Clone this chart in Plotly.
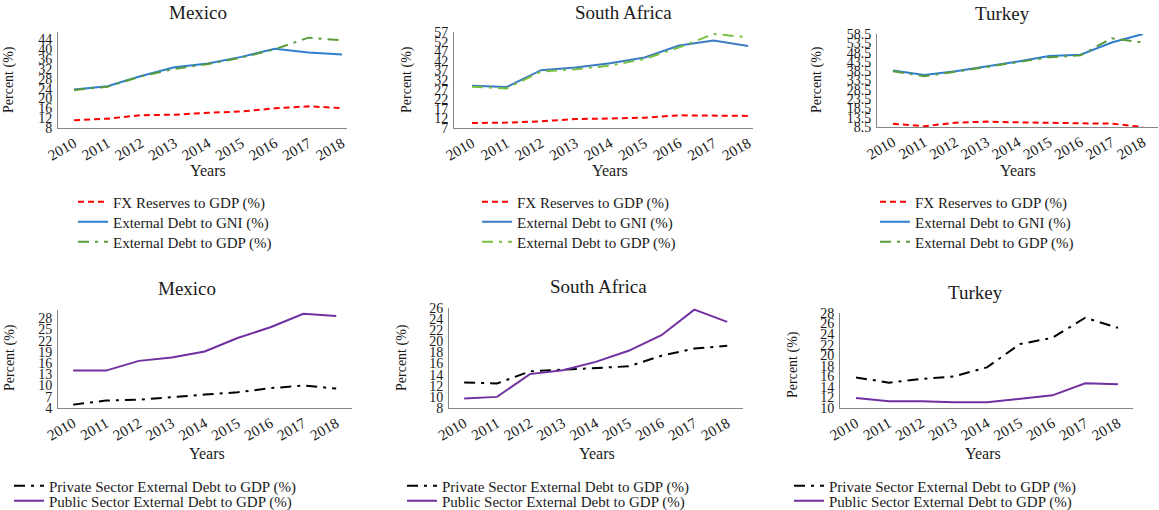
import plotly.graph_objects as go

W, H = 1159, 510
years = ["2010", "2011", "2012", "2013", "2014", "2015", "2016", "2017", "2018"]

# Top row: FX reserves & external debt
mex_fx = [11.1, 11.8, 13.2, 13.4, 14.2, 14.7, 16.0, 16.8, 16.1]
mex_gni = [23.6, 25.0, 29.1, 32.7, 34.2, 36.9, 40.2, 38.7, 37.9]
mex_gdp = [23.4, 24.8, 29.0, 32.0, 34.0, 36.6, 40.0, 44.7, 43.6]

za_fx = [9.6, 9.8, 10.5, 11.7, 11.9, 12.4, 13.6, 13.6, 13.3]
za_gni = [29.0, 28.3, 37.1, 38.5, 40.7, 43.7, 50.0, 52.6, 49.7]
za_gdp = [28.5, 27.6, 36.4, 37.6, 39.5, 43.0, 49.0, 56.0, 54.2]

tr_fx = [10.3, 8.9, 10.8, 11.4, 11.0, 10.6, 10.5, 10.3, 8.5]
tr_gni = [38.9, 36.4, 38.5, 41.0, 43.7, 46.7, 47.4, 53.9, 58.5]
tr_gdp = [38.5, 35.8, 38.2, 40.8, 43.3, 46.0, 47.0, 56.2, 53.9]

# Bottom row: private vs public external debt
mex_priv = [4.9, 6.0, 6.2, 7.0, 7.6, 8.2, 9.3, 10.0, 9.2]
mex_pub = [14.0, 14.0, 16.6, 17.5, 19.1, 22.7, 25.6, 29.2, 28.6]
za_priv = [12.6, 12.4, 14.6, 14.9, 15.3, 15.5, 17.4, 18.7, 19.2]
za_pub = [9.7, 10.0, 14.1, 14.8, 16.3, 18.3, 21.1, 25.7, 23.5]
tr_priv = [15.8, 14.8, 15.5, 16.0, 17.7, 22.1, 23.3, 27.1, 25.2]
tr_pub = [11.9, 11.3, 11.3, 11.1, 11.1, 11.8, 12.4, 14.7, 14.5]

countries = ["Mexico", "South Africa", "Turkey"]
top_names = ["FX Reserves to GDP (%)", "External Debt to GNI (%)", "External Debt to GDP (%)"]
bot_names = ["Private Sector External Debt to GDP (%)", "Public Sector External Debt to GDP (%)"]

top_data = [(mex_fx, mex_gni, mex_gdp), (za_fx, za_gni, za_gdp), (tr_fx, tr_gni, tr_gdp)]
bot_data = [(mex_priv, mex_pub), (za_priv, za_pub), (tr_priv, tr_pub)]

top_y = [(8, 47, 8, 4), (7, 57, 7, 5), (8.5, 58.5, 8.5, 5)]
bot_y = [(4, 30.2, 4, 3), (8, 26, 8, 2), (10, 28, 10, 2)]

# panel boxes in pixels: x0, x1, ytop, ybottom ; x range
top_box = [(58, 347, 32, 128, -0.48, 8.15), (454, 753, 32, 128, -0.52, 8.14), (877, 1158, 34, 127, -0.51, 8.48)]
bot_box = [(58, 352, 310, 408, -0.46, 8.48), (449, 743, 308, 408, -0.46, 8.48), (840, 1133, 313, 408, -0.49, 8.46)]

top_colors = [("#ff0000", "#2f7fcf", "#5a9a3a"), ("#ff0000", "#3c7cc2", "#78c040"), ("#ff0000", "#2f7fcf", "#5a9a3a")]

FONT = "Liberation Serif"
DASHDOT = "11px,6px,3px,6px"
TXT = "#1a1a1a"
LEG_TEXT_OFF = 40  # legend text start relative to legend origin (px)

fig = go.Figure()
layout = dict(width=W, height=H, margin=dict(l=0, r=0, t=0, b=0, autoexpand=False),
              paper_bgcolor="white", plot_bgcolor="white", showlegend=True,
              font=dict(family=FONT, color=TXT, size=13))
annotations = []


def px_x(v):
    return v / W


def px_y(v):
    return 1 - v / H


def axis_pair(idx, box, yr):
    x0, x1, yt, yb, xr0, xr1 = box
    sfx = "" if idx == 1 else str(idx)
    common = dict(showline=True, linecolor="#868686", linewidth=1, showgrid=False,
                  zeroline=False, ticks="", automargin=False)
    layout["xaxis" + sfx] = dict(domain=[px_x(x0), px_x(x1)], anchor="y" + sfx,
                                 type="category", range=[xr0, xr1], tickangle=-30,
                                 categoryorder="array", categoryarray=years, ticklabelstandoff=0,
                                 tickfont=dict(family=FONT, size=15, color=TXT), **common)
    layout["yaxis" + sfx] = dict(domain=[px_y(yb), px_y(yt)], anchor="x" + sfx,
                                 range=[yr[0], yr[1]], tickmode="linear", tick0=yr[2], dtick=yr[3],
                                 ticklabelstandoff=2,
                                 tickfont=dict(family=FONT, size=14, color=TXT), **common)
    return "x" + sfx, "y" + sfx


def add_text(txt, pos, size, angle=0):
    annotations.append(dict(text=txt, x=px_x(pos[0]), y=px_y(pos[1]), xref="paper", yref="paper",
                            xanchor="center", yanchor="middle",
                            showarrow=False, textangle=angle,
                            font=dict(family=FONT, size=size, color=TXT)))


leg_count = [0]


def add_legend(text_x, center_y, size):
    leg_count[0] += 1
    name = "legend" if leg_count[0] == 1 else "legend" + str(leg_count[0])
    layout[name] = dict(x=px_x(text_x - LEG_TEXT_OFF), y=px_y(center_y), xanchor="left", yanchor="middle",
                        bgcolor="rgba(0,0,0,0)", font=dict(family=FONT, size=size, color=TXT),
                        tracegroupgap=0, itemclick=False, itemdoubleclick=False)
    return name


idx = 0
# top row
top_title_pos = [(198, 12), (623, 12), (1002, 13)]
top_years_pos = [(208, 171), (610, 171), (1018, 171)]
top_pct_pos = [(9, 80), (407, 80), (817, 80)]
top_leg_text_x = [113, 517, 915]
top_leg_y = [202, 222, 242]
for i in range(3):
    idx += 1
    xa, ya = axis_pair(idx, top_box[i], top_y[i])
    fx, gni, gdp = top_data[i]
    c = top_colors[i]
    styles = [dict(color=c[0], width=2, dash="6px,4px"), dict(color=c[1], width=2),
              dict(color=c[2], width=2, dash=DASHDOT)]
    for k, series in enumerate((fx, gni, gdp)):
        leg = add_legend(top_leg_text_x[i], top_leg_y[k], 15)
        fig.add_trace(go.Scatter(x=years, y=series, mode="lines", name=top_names[k], xaxis=xa, yaxis=ya,
                                 legend=leg, line=styles[k]))
    add_text(countries[i], top_title_pos[i], 19)
    add_text("Years", top_years_pos[i], 16)
    add_text("Percent (%)", top_pct_pos[i], 14, -90)

# bottom row
bot_title_pos = [(187, 288), (598, 286), (975, 292)]
bot_years_pos = [(207, 453), (597, 453), (983, 453)]
bot_pct_pos = [(10, 358), (402, 358), (793, 365)]
bot_leg_text_x = [49, 442, 829]
bot_leg_y = [486, 501]
for i in range(3):
    idx += 1
    xa, ya = axis_pair(idx, bot_box[i], bot_y[i])
    priv, pub = bot_data[i]
    styles = [dict(color="#000000", width=2, dash=DASHDOT), dict(color="#7030a0", width=2)]
    for k, series in enumerate((priv, pub)):
        leg = add_legend(bot_leg_text_x[i], bot_leg_y[k], 15)
        fig.add_trace(go.Scatter(x=years, y=series, mode="lines", name=bot_names[k], xaxis=xa, yaxis=ya,
                                 legend=leg, line=styles[k]))
    add_text(countries[i], bot_title_pos[i], 19)
    add_text("Years", bot_years_pos[i], 16)
    add_text("Percent (%)", bot_pct_pos[i], 14, -90)

layout["annotations"] = annotations
fig.update_layout(**layout)
fig.write_html("out.html", config={"displayModeBar": False},
               post_script="document.body.style.margin='0';document.body.style.overflow='hidden';")
